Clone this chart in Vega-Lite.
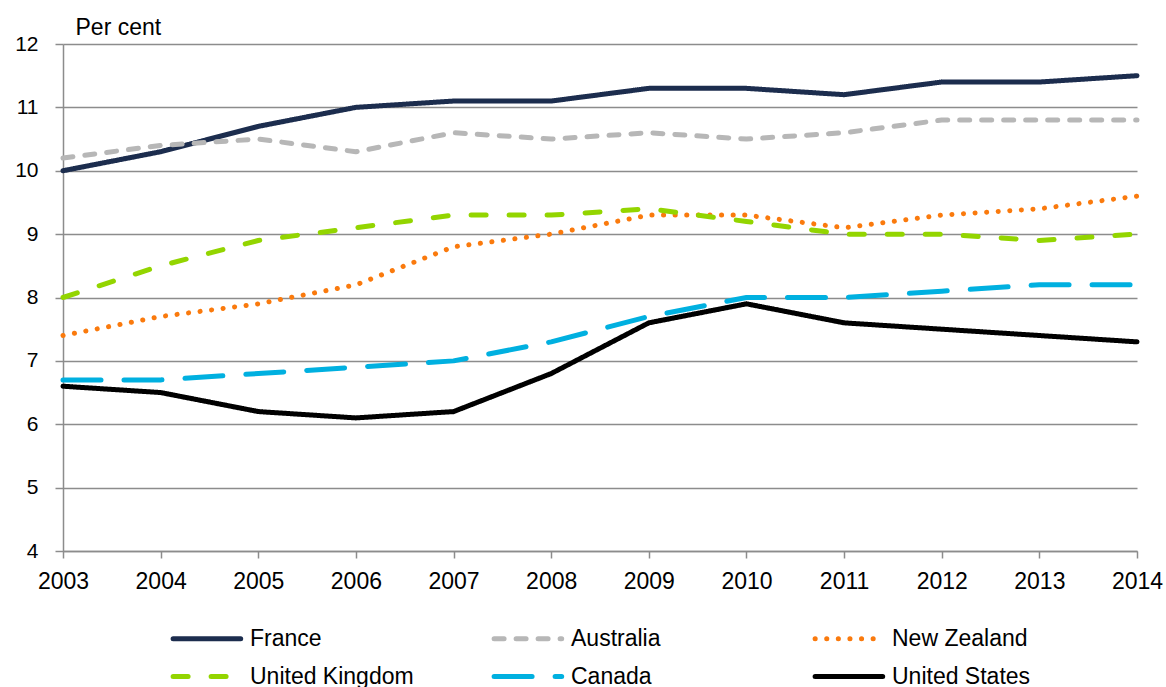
{
  "$schema": "https://vega.github.io/schema/vega-lite/v6.json",
  "width": 1074,
  "height": 507,
  "autosize": "none",
  "padding": {"left": 63, "top": 44, "right": 29, "bottom": 136},
  "background": "white",
  "config": {
    "view": {"stroke": null},
    "font": "Liberation Sans"
  },
  "data": {
    "values": [
      {"country": "France", "year": 2003, "value": 10.0},
      {"country": "France", "year": 2004, "value": 10.3},
      {"country": "France", "year": 2005, "value": 10.7},
      {"country": "France", "year": 2006, "value": 11.0},
      {"country": "France", "year": 2007, "value": 11.1},
      {"country": "France", "year": 2008, "value": 11.1},
      {"country": "France", "year": 2009, "value": 11.3},
      {"country": "France", "year": 2010, "value": 11.3},
      {"country": "France", "year": 2011, "value": 11.2},
      {"country": "France", "year": 2012, "value": 11.4},
      {"country": "France", "year": 2013, "value": 11.4},
      {"country": "France", "year": 2014, "value": 11.5},
      {"country": "Australia", "year": 2003, "value": 10.2},
      {"country": "Australia", "year": 2004, "value": 10.4},
      {"country": "Australia", "year": 2005, "value": 10.5},
      {"country": "Australia", "year": 2006, "value": 10.3},
      {"country": "Australia", "year": 2007, "value": 10.6},
      {"country": "Australia", "year": 2008, "value": 10.5},
      {"country": "Australia", "year": 2009, "value": 10.6},
      {"country": "Australia", "year": 2010, "value": 10.5},
      {"country": "Australia", "year": 2011, "value": 10.6},
      {"country": "Australia", "year": 2012, "value": 10.8},
      {"country": "Australia", "year": 2013, "value": 10.8},
      {"country": "Australia", "year": 2014, "value": 10.8},
      {"country": "New Zealand", "year": 2003, "value": 7.4},
      {"country": "New Zealand", "year": 2004, "value": 7.7},
      {"country": "New Zealand", "year": 2005, "value": 7.9},
      {"country": "New Zealand", "year": 2006, "value": 8.2},
      {"country": "New Zealand", "year": 2007, "value": 8.8},
      {"country": "New Zealand", "year": 2008, "value": 9.0},
      {"country": "New Zealand", "year": 2009, "value": 9.3},
      {"country": "New Zealand", "year": 2010, "value": 9.3},
      {"country": "New Zealand", "year": 2011, "value": 9.1},
      {"country": "New Zealand", "year": 2012, "value": 9.3},
      {"country": "New Zealand", "year": 2013, "value": 9.4},
      {"country": "New Zealand", "year": 2014, "value": 9.6},
      {"country": "United Kingdom", "year": 2003, "value": 8.0},
      {"country": "United Kingdom", "year": 2004, "value": 8.5},
      {"country": "United Kingdom", "year": 2005, "value": 8.9},
      {"country": "United Kingdom", "year": 2006, "value": 9.1},
      {"country": "United Kingdom", "year": 2007, "value": 9.3},
      {"country": "United Kingdom", "year": 2008, "value": 9.3},
      {"country": "United Kingdom", "year": 2009, "value": 9.4},
      {"country": "United Kingdom", "year": 2010, "value": 9.2},
      {"country": "United Kingdom", "year": 2011, "value": 9.0},
      {"country": "United Kingdom", "year": 2012, "value": 9.0},
      {"country": "United Kingdom", "year": 2013, "value": 8.9},
      {"country": "United Kingdom", "year": 2014, "value": 9.0},
      {"country": "Canada", "year": 2003, "value": 6.7},
      {"country": "Canada", "year": 2004, "value": 6.7},
      {"country": "Canada", "year": 2005, "value": 6.8},
      {"country": "Canada", "year": 2006, "value": 6.9},
      {"country": "Canada", "year": 2007, "value": 7.0},
      {"country": "Canada", "year": 2008, "value": 7.3},
      {"country": "Canada", "year": 2009, "value": 7.7},
      {"country": "Canada", "year": 2010, "value": 8.0},
      {"country": "Canada", "year": 2011, "value": 8.0},
      {"country": "Canada", "year": 2012, "value": 8.1},
      {"country": "Canada", "year": 2013, "value": 8.2},
      {"country": "Canada", "year": 2014, "value": 8.2},
      {"country": "United States", "year": 2003, "value": 6.6},
      {"country": "United States", "year": 2004, "value": 6.5},
      {"country": "United States", "year": 2005, "value": 6.2},
      {"country": "United States", "year": 2006, "value": 6.1},
      {"country": "United States", "year": 2007, "value": 6.2},
      {"country": "United States", "year": 2008, "value": 6.8},
      {"country": "United States", "year": 2009, "value": 7.6},
      {"country": "United States", "year": 2010, "value": 7.9},
      {"country": "United States", "year": 2011, "value": 7.6},
      {"country": "United States", "year": 2012, "value": 7.5},
      {"country": "United States", "year": 2013, "value": 7.4},
      {"country": "United States", "year": 2014, "value": 7.3}
    ]
  },
  "mark": {"type": "line", "strokeCap": "round", "strokeJoin": "round"},
  "encoding": {
    "x": {
      "field": "year",
      "type": "quantitative",
      "scale": {"domain": [2003, 2014], "nice": false, "zero": false},
      "axis": {
        "title": null,
        "values": [2003, 2004, 2005, 2006, 2007, 2008, 2009, 2010, 2011, 2012, 2013, 2014],
        "format": "d",
        "grid": false,
        "domainColor": "#8c8c8c",
        "domainWidth": 1.5,
        "tickColor": "#8c8c8c",
        "tickWidth": 1.5,
        "tickSize": 7,
        "labelFontSize": 23,
        "labelColor": "#000000",
        "labelPadding": 12,
        "labelFlush": false,
        "labelOverlap": false
      }
    },
    "y": {
      "field": "value",
      "type": "quantitative",
      "scale": {"domain": [4, 12], "nice": false, "zero": false},
      "axis": {
        "title": "Per cent",
        "titleAngle": 0,
        "titleAlign": "left",
        "titleBaseline": "alphabetic",
        "titleX": 12,
        "titleY": -10,
        "titleFontSize": 23,
        "titleFontWeight": "normal",
        "titleColor": "#000000",
        "values": [4, 5, 6, 7, 8, 9, 10, 11, 12],
        "grid": true,
        "gridColor": "#8c8c8c",
        "gridWidth": 1.5,
        "domainColor": "#8c8c8c",
        "domainWidth": 1.5,
        "tickColor": "#8c8c8c",
        "tickWidth": 1.5,
        "tickSize": 8,
        "labelFontSize": 21,
        "labelColor": "#000000",
        "labelPadding": 17,
        "labelFlush": false
      }
    },
    "color": {
      "field": "country",
      "type": "nominal",
      "scale": {
        "domain": ["France", "Australia", "New Zealand", "United Kingdom", "Canada", "United States"],
        "range": ["#1c2d4e", "#b7b7b7", "#fa7a0d", "#93d500", "#00b0e0", "#000000"]
      },
      "legend": {
        "title": null,
        "orient": "none",
        "legendX": 105,
        "legendY": 579,
        "direction": "horizontal",
        "columns": 3,
        "gridAlign": "all",
        "columnPadding": 70,
        "rowPadding": 10,
        "symbolType": "M-0.8,0H4.4",
        "symbolSize": 676,
        "labelFontSize": 23,
        "labelColor": "#000000",
        "labelOffset": 51,
        "labelLimit": 300,
        "encode": {"symbols": {"update": {"strokeCap": {"value": "round"}, "fill": {"value": "transparent"}}}}
      }
    },
    "strokeDash": {
      "field": "country",
      "type": "nominal",
      "scale": {
        "domain": ["France", "Australia", "New Zealand", "United Kingdom", "Canada", "United States"],
        "range": [[1, 0], [10, 12], [0.1, 11.5], [15, 23], [38, 23], [1, 0]]
      },
      "legend": null
    },
    "strokeWidth": {
      "field": "country",
      "type": "nominal",
      "scale": {
        "domain": ["France", "Australia", "New Zealand", "United Kingdom", "Canada", "United States"],
        "range": [5, 5, 4, 5, 5, 1.8]
      },
      "legend": null
    }
  }
}
